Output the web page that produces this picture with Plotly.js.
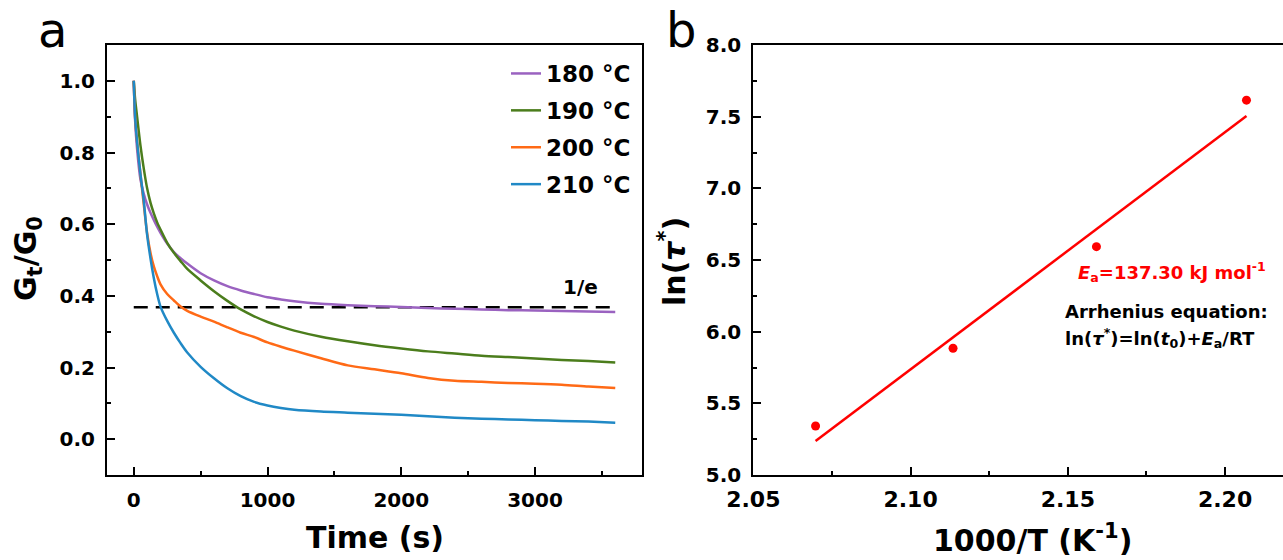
<!DOCTYPE html>
<html>
<head>
<meta charset="utf-8">
<script src="https://cdn.plot.ly/plotly-3.0.1.min.js"></script>
<style>
html,body{margin:0;padding:0;overflow:hidden;background:#fff;}
#chart{width:1290px;height:560px;}
</style>
</head>
<body>
<div id="chart"></div>
<script>
// ---------- data: panel a (stress relaxation) ----------
const timeS = [0,10,25,50,75,100,125,150,175,200,250,300,350,400,500,600,700,800,900,1000,1100,1200,1400,1600,1800,2000,2200,2400,2600,2800,3000,3200,3400,3600];
const g180 = [1.0,0.89,0.81,0.725,0.685,0.655,0.632,0.612,0.593,0.576,0.546,0.522,0.505,0.490,0.463,0.443,0.427,0.415,0.405,0.396,0.390,0.385,0.378,0.374,0.371,0.369,0.366,0.364,0.362,0.360,0.359,0.358,0.356,0.355];
const g190 = [1.0,0.95,0.90,0.82,0.755,0.70,0.66,0.63,0.605,0.585,0.548,0.520,0.497,0.475,0.443,0.413,0.386,0.362,0.343,0.327,0.314,0.303,0.286,0.273,0.262,0.253,0.245,0.239,0.233,0.229,0.225,0.221,0.218,0.214];
const g200 = [1.0,0.90,0.83,0.74,0.655,0.575,0.52,0.482,0.455,0.432,0.405,0.387,0.370,0.358,0.342,0.328,0.312,0.297,0.285,0.270,0.258,0.247,0.226,0.206,0.195,0.184,0.171,0.163,0.160,0.157,0.155,0.152,0.147,0.143];
const g210 = [1.0,0.90,0.83,0.74,0.665,0.57,0.505,0.45,0.405,0.37,0.33,0.297,0.268,0.242,0.202,0.170,0.142,0.120,0.104,0.094,0.087,0.082,0.077,0.074,0.071,0.068,0.064,0.060,0.057,0.055,0.053,0.051,0.049,0.046];
const seriesNames = ["180 °C","190 °C","200 °C","210 °C"];
const refLineX = [0, 3600];
const refLineY = [0.3679, 0.3679];
const refLabel = "1/e";

// ---------- data: panel b (Arrhenius) ----------
const invT = [2.0698, 2.1135, 2.1591, 2.2068];
const lnTau = [5.342, 5.884, 6.593, 7.615];
const fitX = [2.0698, 2.2068];
const fitY = [5.237, 7.505];

const colors = ["#9a62c0","#4b7d1c","#ff6a16","#2089c6"];
const FONT = "DejaVu Sans";
const W = 1290, H = 560;

const curves = [g180,g190,g200,g210].map((ys,i)=>({
  x: timeS, y: ys, type:'scatter', mode:'lines', name: seriesNames[i],
  legendgroup: 'g'+i,
  line:{color:colors[i], width:2.5, shape:'spline', smoothing:0.8},
  xaxis:'x', yaxis:'y'
}));

const traces = [
  {x: refLineX, y: refLineY, type:'scatter', mode:'lines', showlegend:false,
   line:{color:'#000', width:2.5, dash:'14px,8px'}, xaxis:'x', yaxis:'y'},
  ...curves,
  {x: fitX, y: fitY, type:'scatter', mode:'lines', showlegend:false,
   line:{color:'#ff0000', width:2.5}, xaxis:'x2', yaxis:'y2'},
  {x: invT, y: lnTau, type:'scatter', mode:'markers', showlegend:false,
   marker:{color:'#ff0000', size:9}, xaxis:'x2', yaxis:'y2'}
];

const axisCommon = {
  showline:true, linecolor:'#000', linewidth:2, mirror:true,
  ticks:'inside', ticklen:8, tickwidth:2, tickcolor:'#000',
  showgrid:false, zeroline:false,
  tickfont:{family:FONT, size:20, color:'#000', weight:'bold'},
};

function ann(x, y, text, size, extra){
  return Object.assign({xref:'paper', yref:'paper', x:x/W, y:1-y/H, text:text, showarrow:false,
    xanchor:'center', yanchor:'middle', font:{family:FONT, size:size, color:'#000'}}, extra||{});
}

const layout = {
  width: W, height: H,
  margin:{l:0,r:0,t:0,b:0},
  paper_bgcolor:'#fff', plot_bgcolor:'#fff',
  font:{family:FONT, color:'#000'},
  showlegend:true,
  legend:{x:636/W, xanchor:'right', y:1-52/H, yanchor:'top',
          bgcolor:'rgba(0,0,0,0)', tracegroupgap:4,
          font:{family:FONT, size:23, color:'#000', weight:'bold'}},
  xaxis: Object.assign({}, axisCommon, {
    domain:[107/W, 642/W], range:[-200, 3800], dtick:1000, tick0:0,
    minor:{ticks:'inside', ticklen:4, tickwidth:2, tickcolor:'#000', dtick:500},
    ticklabelstandoff: 6, anchor:'y'
  }),
  yaxis: Object.assign({}, axisCommon, {
    domain:[1-475/H, 1-45/H], range:[-0.1, 1.1], dtick:0.2, tick0:0, tickformat:'.1f',
    minor:{ticks:'inside', ticklen:4, tickwidth:2, tickcolor:'#000', dtick:0.1},
    ticklabelstandoff: 6, anchor:'x'
  }),
  xaxis2: Object.assign({}, axisCommon, {
    domain:[753.3/W, 1288/W], range:[2.05, 2.22], dtick:0.05, tick0:2.05, tickformat:'.2f',
    minor:{ticks:'inside', ticklen:4, tickwidth:2, tickcolor:'#000', dtick:0.025},
    tickfont:{family:FONT, size:22, color:'#000', weight:'bold'},
    ticklabelstandoff: 4, anchor:'y2'
  }),
  yaxis2: Object.assign({}, axisCommon, {
    domain:[1-475/H, 1-45/H], range:[5, 8], dtick:0.5, tick0:5, tickformat:'.1f',
    minor:{ticks:'inside', ticklen:4, tickwidth:2, tickcolor:'#000', dtick:0.25},
    ticklabelstandoff: 6, anchor:'x2'
  }),
  annotations:[
    ann(52, 30, 'a', 48),
    ann(681, 30, 'b', 48),
    ann(375, 537, '<b>Time (s)</b>', 30),
    ann(1032, 538, '<b>1000/T (K<sup>-1</sup>)</b>', 30),
    ann(27, 259, '<b>G<sub>t</sub>/G<sub>0</sub></b>', 30, {textangle:-90}),
    ann(672, 262, '<b>ln(<i>τ</i><sup>*</sup>)</b>', 30, {textangle:-90}),
    ann(580, 287, '<b>'+refLabel+'</b>', 20),
    ann(1076, 272, '<b><i>E</i><sub>a</sub>=137.30 kJ mol<sup>-1</sup></b>', 18,
        {xanchor:'left', font:{family:FONT, size:18, color:'#ff0000'}}),
    ann(1063, 311, '<b>Arrhenius equation:</b>', 18, {xanchor:'left'}),
    ann(1063, 338, '<b>ln(<i>τ</i><sup>*</sup>)=ln(<i>t</i><sub>0</sub>)+<i>E</i><sub>a</sub>/RT</b>', 18, {xanchor:'left'})
  ]
};

Plotly.newPlot('chart', traces, layout, {displayModeBar:false, staticPlot:true});
</script>
</body>
</html>
